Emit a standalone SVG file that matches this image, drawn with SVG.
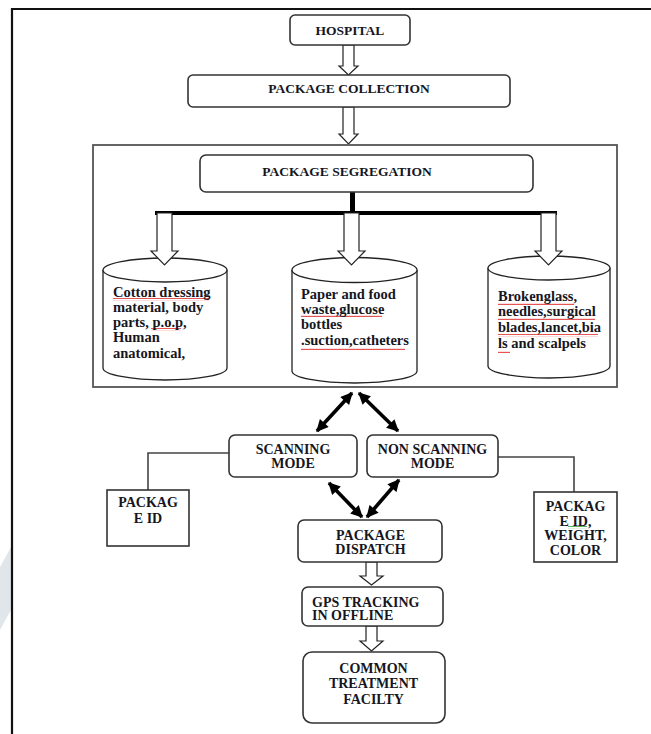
<svg xmlns="http://www.w3.org/2000/svg" width="651" height="734" viewBox="0 0 651 734">
<style>
.box{fill:#fff;stroke:#333;stroke-width:1.6}
.frame{fill:none;stroke:#111;stroke-width:2.2}
.seg{fill:none;stroke:#555;stroke-width:1.8}
.cyl{fill:#fff;stroke:#222;stroke-width:1.3}
.hol{fill:#fff;stroke:#222;stroke-width:1.2;stroke-linejoin:miter}
.thin{fill:none;stroke:#444;stroke-width:1.6}
.dbl{fill:none;stroke:#000;stroke-width:3.6;marker-start:url(#ah);marker-end:url(#ah)}
.t{font-family:"Liberation Serif","Times New Roman",serif;font-weight:bold;font-size:13.5px;fill:#16161e}
.t14{font-family:"Liberation Serif","Times New Roman",serif;font-weight:bold;font-size:14px;fill:#16161e}
.c{text-anchor:middle}
.ct{font-family:"Liberation Serif","Times New Roman",serif;font-weight:bold;font-size:14.5px;fill:#16161e}
.red{fill:url(#wavR)}
.grn{fill:url(#wavG)}
</style>
<defs>
<marker id="ah" viewBox="0 0 10 10" refX="9" refY="5" markerWidth="13" markerHeight="12" markerUnits="userSpaceOnUse" orient="auto-start-reverse">
<path d="M0,0 L10,5 L0,10 Z" fill="#000"/>
</marker>
<pattern id="wavR" width="4" height="3" patternUnits="userSpaceOnUse">
<path d="M0,2 L1,0.8 L2,2 L3,0.8 L4,2" fill="none" stroke="#e03030" stroke-width="0.9"/>
</pattern>
<pattern id="wavG" width="4" height="3" patternUnits="userSpaceOnUse">
<path d="M0,2 L1,0.8 L2,2 L3,0.8 L4,2" fill="none" stroke="#3a9a3a" stroke-width="0.9"/>
</pattern>
</defs>
<rect width="651" height="734" fill="#fff"/>
<polygon points="0,567 11,547 11,610 0,630" fill="#e1e6ea"/>
<path class="frame" d="M12,734 L12,9 L651,9"/>

<g id="connectors">
<path class="hol" d="M343,45 L343,66 L339,66 L348.5,75 L358,66 L354,66 L354,45 Z"/>
<path class="hol" d="M343,107 L343,134 L339,134 L348.5,144 L358,134 L354,134 L354,107 Z"/>
<rect x="350" y="192" width="5" height="21" fill="#000"/>
<rect x="155" y="211" width="402" height="4" fill="#000"/>
<path class="hol" d="M366,562 L366,576 L360,576 L371.5,585 L383,576 L377,576 L377,562 Z"/>
<path class="hol" d="M366,626 L366,641 L360,641 L371.5,651 L383,641 L377,641 L377,626 Z"/>
<line class="dbl" x1="352" y1="393" x2="317" y2="431"/>
<line class="dbl" x1="359" y1="393" x2="398" y2="431"/>
<line class="dbl" x1="329" y1="483" x2="362" y2="517"/>
<line class="dbl" x1="399" y1="480" x2="367" y2="517"/>
<path class="thin" d="M229,453 L148,453 L148,490"/>
<path class="thin" d="M498,457 L574,457 L574,492"/>
</g>

<g id="hospital">
<rect class="box" x="290" y="15" width="120" height="30" rx="5"/>
<text class="t c" x="350" y="35" font-size="13">HOSPITAL</text>
</g>
<g id="package-collection">
<rect class="box" x="188" y="75" width="322" height="32" rx="5"/>
<text class="t c" x="349" y="93">PACKAGE COLLECTION</text>
</g>

<g id="segregation-area">
<rect class="seg" x="93" y="145" width="524" height="242"/>
</g>
<g id="package-segregation">
<rect class="box" x="200" y="155" width="333" height="37" rx="6"/>
<text class="t c" x="347" y="176">PACKAGE SEGREGATION</text>
</g>

<g id="bin-1">
<path class="cyl" d="M103,270 L103,368 A62,12 0 0 0 227,368 L227,270"/>
<ellipse class="cyl" cx="165" cy="270" rx="62" ry="12"/>
<path class="hol" d="M157,213 L157,251 L151,251 L164.5,265 L178,251 L172,251 L172,213 Z"/>
<rect class="red" x="113" y="298" width="96" height="3"/>
<rect class="red" x="151" y="328" width="30" height="3"/>
<text class="ct" x="113"><tspan x="113" y="297">Cotton dressing</tspan><tspan x="113" y="312">material, body</tspan><tspan x="113" y="327">parts, p.o.p,</tspan><tspan x="113" y="342">Human</tspan><tspan x="113" y="357.5">anatomical,</tspan></text>
</g>
<g id="bin-2">
<path class="cyl" d="M292,270 L292,371 A62.5,12 0 0 0 417,371 L417,270"/>
<ellipse class="cyl" cx="354.5" cy="270" rx="62.5" ry="12.5"/>
<path class="hol" d="M344,213 L344,251 L338,251 L351.5,265 L365,251 L359,251 L359,213 Z"/>
<rect class="red" x="301" y="315" width="81" height="3"/>
<rect class="red" x="301" y="347" width="104" height="3"/>
<text class="ct"><tspan x="301" y="299">Paper and food</tspan><tspan x="301" y="314">waste,glucose</tspan><tspan x="301" y="329">bottles</tspan><tspan x="301" y="345">.suction,catheters</tspan></text>
</g>
<g id="bin-3">
<path class="cyl" d="M488,268 L488,366 A61,12 0 0 0 610,366 L610,268"/>
<ellipse class="cyl" cx="549" cy="268" rx="61" ry="12"/>
<path class="hol" d="M541,213 L541,251 L535,251 L548.5,265 L562,251 L556,251 L556,213 Z"/>
<rect class="red" x="498" y="303" width="76" height="3"/>
<rect class="red" x="498" y="318" width="97" height="3"/>
<rect class="red" x="498" y="334" width="100" height="3"/>
<rect class="red" x="498" y="350" width="12" height="3"/>
<text class="ct"><tspan x="498" y="301">Brokenglass,</tspan><tspan x="498" y="316">needles,surgical</tspan><tspan x="498" y="332">blades,lancet,bia</tspan><tspan x="498" y="348">ls and scalpels</tspan></text>
</g>

<g id="scanning-mode">
<rect class="box" x="229" y="435" width="128" height="42" rx="6"/>
<text class="t14 c" x="293" y="453.5">SCANNING</text>
<text class="t14 c" x="293" y="468">MODE</text>
</g>
<g id="non-scanning-mode">
<rect class="box" x="367" y="435" width="131" height="42" rx="6"/>
<text class="t14 c" x="432.5" y="453.5">NON SCANNING</text>
<text class="t14 c" x="432.5" y="468">MODE</text>
</g>
<g id="package-id">
<rect class="box" x="107" y="490" width="82" height="56"/>
<text class="t14 c" x="148" y="507">PACKAG</text>
<text class="t14 c" x="148" y="523">E ID</text>
</g>
<g id="package-id-weight-color">
<rect class="box" x="534" y="492" width="83" height="70"/>
<rect class="grn" x="568" y="526" width="19" height="3"/>
<text class="t14 c" x="575.5" y="511">PACKAG</text>
<text class="t14 c" x="575.5" y="525.5">E ID,</text>
<text class="t14 c" x="575.5" y="540">WEIGHT,</text>
<text class="t14 c" x="575.5" y="554.5">COLOR</text>
</g>
<g id="package-dispatch">
<rect class="box" x="298" y="520" width="144" height="42" rx="6"/>
<text class="t14 c" x="370.5" y="540">PACKAGE</text>
<text class="t14 c" x="370.5" y="553.5">DISPATCH</text>
</g>
<g id="gps-tracking">
<rect class="box" x="302" y="587" width="141" height="39" rx="6"/>
<text class="t14" x="312" y="606.5">GPS TRACKING</text>
<text class="t14" x="312" y="620">IN OFFLINE</text>
</g>
<g id="common-treatment">
<rect class="box" x="303" y="652" width="142" height="71" rx="9"/>
<text class="t14 c" x="373.5" y="672.5">COMMON</text>
<text class="t14 c" x="373.5" y="688">TREATMENT</text>
<text class="t14 c" x="373.5" y="704">FACILTY</text>
</g>
</svg>
